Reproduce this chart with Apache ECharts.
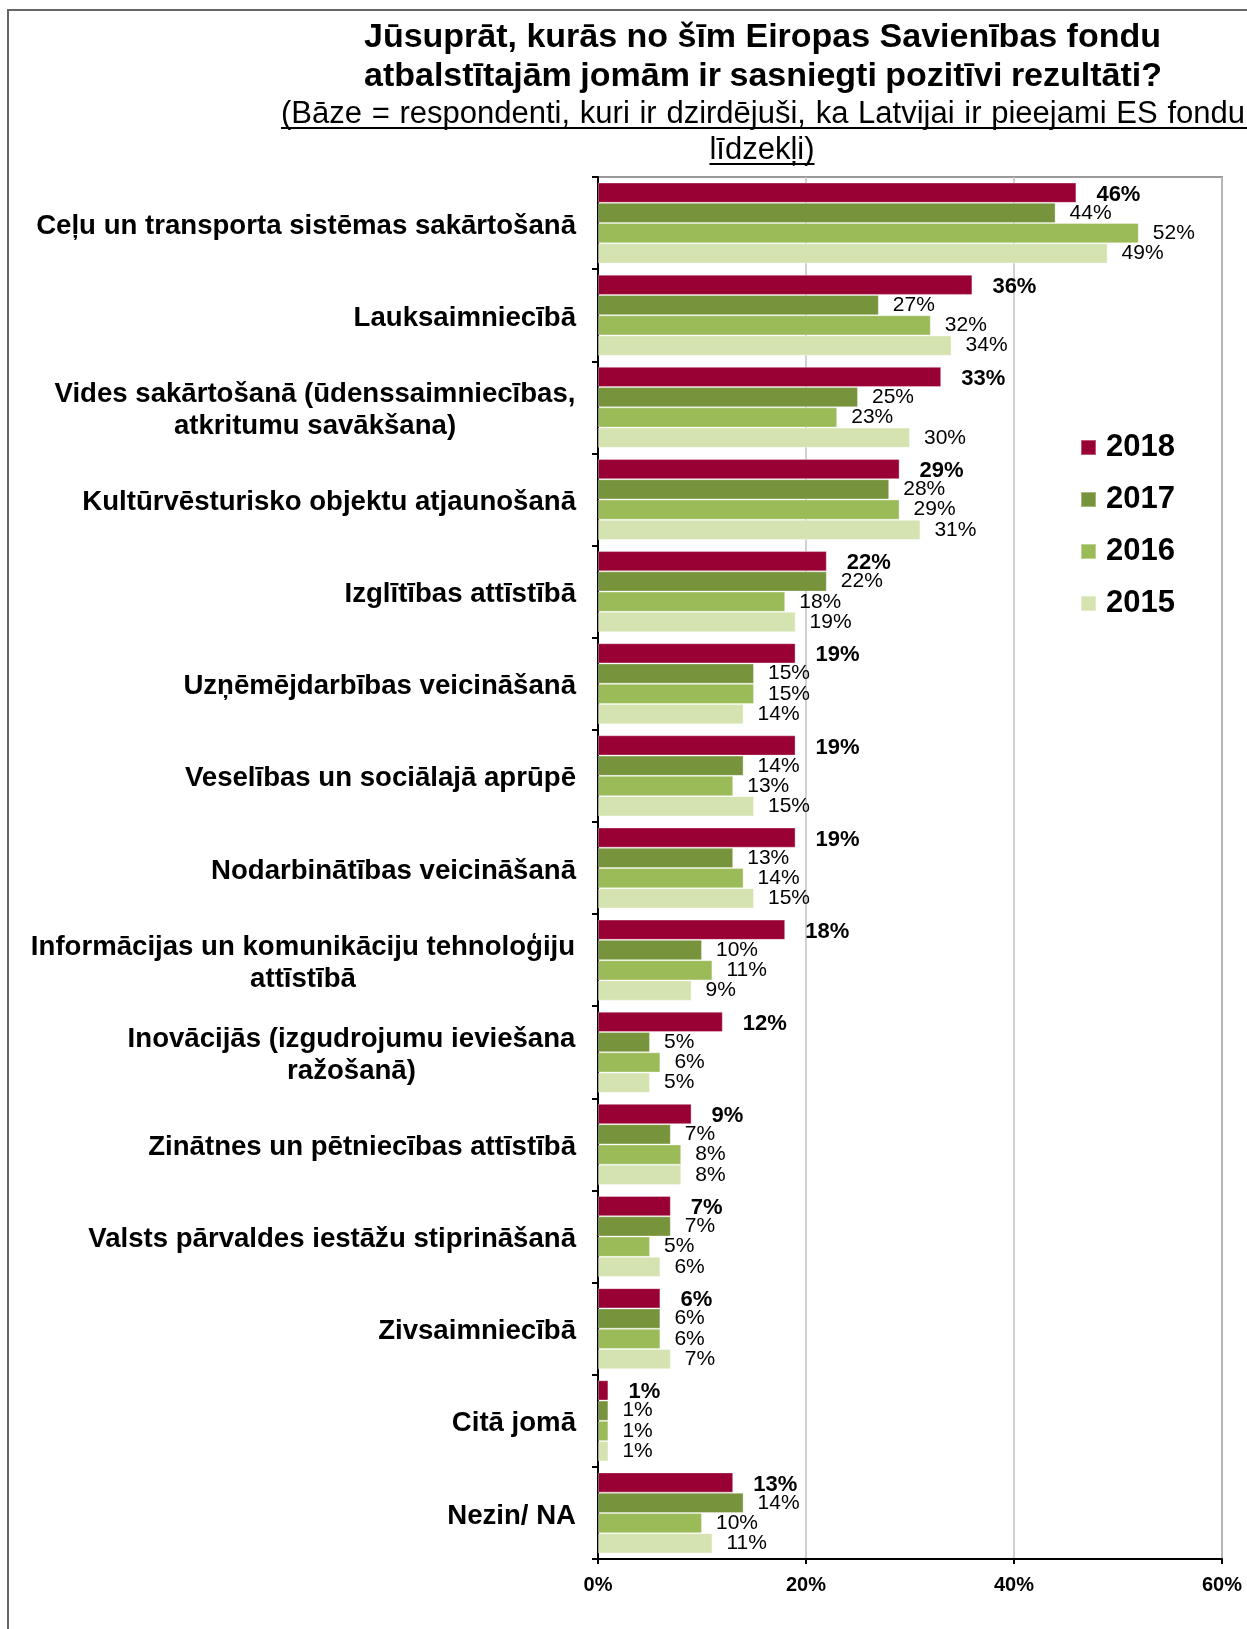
<!DOCTYPE html>
<html>
<head>
<meta charset="utf-8">
<script src="https://cdn.jsdelivr.net/npm/echarts@6/dist/echarts.min.js"></script>
<style>
  html, body { margin: 0; padding: 0; background: #fff; }
  #chart { width: 1247px; height: 1629px; }
</style>
</head>
<body>
<div id="chart"></div>
<script>
// Survey areas (top to bottom)
const categories = [
  'Ceļu un transporta sistēmas sakārtošanā',
  'Lauksaimniecībā',
  'Vides sakārtošanā (ūdenssaimniecības,\natkritumu savākšana)',
  'Kultūrvēsturisko objektu atjaunošanā',
  'Izglītības attīstībā',
  'Uzņēmējdarbības veicināšanā',
  'Veselības un sociālajā aprūpē',
  'Nodarbinātības veicināšanā',
  'Informācijas un komunikāciju tehnoloģiju\nattīstībā',
  'Inovācijās (izgudrojumu ieviešana\nražošanā)',
  'Zinātnes un pētniecības attīstībā',
  'Valsts pārvaldes iestāžu stiprināšanā',
  'Zivsaimniecībā',
  'Citā jomā',
  'Nezin/ NA'
];

const years = ['2018', '2017', '2016', '2015'];

// Share of respondents, %
const values2018 = [46, 36, 33, 29, 22, 19, 19, 19, 18, 12, 9, 7, 6, 1, 13];
const values2017 = [44, 27, 25, 28, 22, 15, 14, 13, 10, 5, 7, 7, 6, 1, 14];
const values2016 = [52, 32, 23, 29, 18, 15, 13, 14, 11, 6, 8, 5, 6, 1, 10];
const values2015 = [49, 34, 30, 31, 19, 14, 15, 15, 9, 5, 8, 6, 7, 1, 11];

const xTicks = [0, 20, 40, 60];

const titleLines = [
  'Jūsuprāt, kurās no šīm Eiropas Savienības fondu',
  'atbalstītajām jomām ir sasniegti pozitīvi rezultāti?'
];
const subtitleLines = [
  '(Bāze = respondenti, kuri ir dzirdējuši, ka Latvijai ir pieejami ES fondu',
  'līdzekļi)'
];

const seriesValues = [values2018, values2017, values2016, values2015];
const seriesColors = ['#990033', '#77933c', '#9bbb59', '#d4e3b0'];

const FONT = "'Liberation Sans', Arial, Helvetica, sans-serif";

const measureCtx = document.createElement('canvas').getContext('2d');
function textWidth(str, font) {
  measureCtx.font = font;
  return measureCtx.measureText(str).width;
}

// Lay a line of words out across [x0, x1] (justified)
function justifiedLine(text, x0, x1, y, size, weight) {
  const font = `${weight} ${size}px ${FONT}`;
  const words = text.split(' ');
  const widths = words.map(w => textWidth(w, font));
  const total = widths.reduce((a, b) => a + b, 0);
  const gap = (x1 - x0 - total) / (words.length - 1);
  const out = [];
  let x = x0;
  words.forEach((w, i) => {
    out.push({
      type: 'text', x: x, y: y,
      style: { text: w, fontSize: size, fontWeight: weight, fontFamily: FONT,
               fill: '#000', textAlign: 'left', textVerticalAlign: 'middle' }
    });
    x += widths[i] + gap;
  });
  return out;
}

const graphics = [];
// outer frame
graphics.push({
  type: 'rect', z: -10,
  shape: { x: 8, y: 10, width: 1400, height: 1800 },
  style: { fill: 'transparent', stroke: '#666', lineWidth: 2 }
});
graphics.push(...justifiedLine(titleLines[0], 364, 1161, 38, 34, 'bold'));
graphics.push(...justifiedLine(titleLines[1], 364, 1162, 77, 34, 'bold'));
graphics.push(...justifiedLine(subtitleLines[0], 281, 1245, 114, 31, 'normal'));
// last subtitle line, centred
const lastW = textWidth(subtitleLines[1], `normal 31px ${FONT}`);
graphics.push({
  type: 'text', x: 762, y: 150,
  style: { text: subtitleLines[1], fontSize: 31, fontFamily: FONT, fill: '#000',
           textAlign: 'center', textVerticalAlign: 'middle' }
});
// underlines of the base note
graphics.push({ type: 'line', shape: { x1: 281, y1: 128, x2: 1247, y2: 128 },
                style: { stroke: '#000', lineWidth: 2 } });
graphics.push({ type: 'line', shape: { x1: 762 - lastW / 2, y1: 164, x2: 762 + lastW / 2, y2: 164 },
                style: { stroke: '#000', lineWidth: 2 } });

// Category labels: multi-line ones keep their lines centred on each other
const CAT_SIZE = 27.6;
const catRich = {};
categories.forEach((c, i) => {
  if (c.indexOf('\n') >= 0) {
    const w = Math.max(...c.split('\n').map(l => textWidth(l, `bold ${CAT_SIZE}px ${FONT}`)));
    catRich['c' + i] = {
      width: Math.ceil(w) + 1, align: 'center',
      fontSize: CAT_SIZE, fontWeight: 'bold', fontFamily: FONT, color: '#000', lineHeight: 32
    };
  }
});

const chart = echarts.init(document.getElementById('chart'));

const option = {
  animation: false,
  backgroundColor: '#fff',
  graphic: graphics,
  legend: {
    data: years,
    orient: 'vertical',
    left: 1075,
    top: 427,
    itemWidth: 15,
    itemHeight: 15,
    itemGap: 21,
    icon: 'rect',
    textStyle: {
      fontSize: 31, fontWeight: 'bold', fontFamily: FONT, color: '#000',
      lineHeight: 30, padding: [0, 0, 0, 5]
    }
  },
  grid: {
    left: 598, right: 25, top: 177, bottom: 70,
    show: true, borderColor: '#9a9a9a', borderWidth: 2
  },
  xAxis: {
    type: 'value',
    min: xTicks[0],
    max: xTicks[xTicks.length - 1],
    interval: xTicks[1] - xTicks[0],
    axisLine: { show: true, lineStyle: { color: '#000', width: 2 } },
    axisTick: { show: true, length: 5, lineStyle: { color: '#000', width: 2 } },
    axisLabel: {
      formatter: '{value}%', fontSize: 20, fontWeight: 'bold',
      fontFamily: FONT, color: '#000', margin: 16
    },
    splitLine: { show: true, lineStyle: { color: '#c0c0c0', width: 1.5 } }
  },
  yAxis: {
    type: 'category',
    inverse: true,
    data: categories,
    axisLine: { show: true, lineStyle: { color: '#000', width: 2 } },
    axisTick: { show: true, length: 6, lineStyle: { color: '#000', width: 2 } },
    axisLabel: {
      fontSize: CAT_SIZE, fontWeight: 'bold', fontFamily: FONT, color: '#000',
      margin: 22, lineHeight: 32, align: 'right', padding: [6, 0, 0, 0],
      formatter: (value, index) => value.indexOf('\n') >= 0
        ? value.split('\n').map(l => `{c${index}|${l}}`).join('\n')
        : value,
      rich: catRich
    }
  },
  series: years.map((y, i) => ({
    name: y,
    type: 'bar',
    data: seriesValues[i],
    barGap: '0%',
    barCategoryGap: '12%',
    itemStyle: { color: seriesColors[i], borderColor: 'rgba(255,255,255,0.35)', borderWidth: 1 },
    label: {
      show: true,
      position: 'right',
      distance: i === 0 ? 20 : 14,
      offset: i === 0 ? [0, 2] : [0, 0],
      formatter: '{c}%',
      fontSize: i === 0 ? 22 : 21,
      fontWeight: i === 0 ? 'bold' : 'normal',
      fontFamily: FONT,
      color: '#000'
    }
  }))
};

chart.setOption(option);
</script>
</body>
</html>
